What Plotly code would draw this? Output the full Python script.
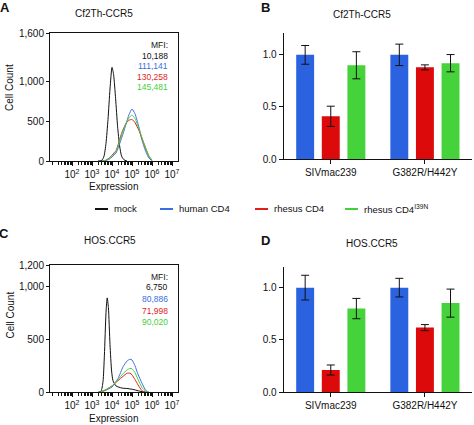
import numpy as np
import plotly.graph_objects as go

W, H = 474, 425
def px(x): return x / W
def py(y): return 1 - y / H

FONT = "Liberation Sans, Arial, sans-serif"

# ---------------- data ----------------
series_names = ["mock", "human CD4", "rhesus CD4", "rhesus CD4<sup>I39N</sup>"]
line_colors = ["#111111", "#3a6ee6", "#e01e1e", "#46cf3c"]
bar_colors = ["#2a62e0", "#dc0a0a", "#45d23a"]

# Panel A (Cf2Th-CCR5) histograms, x in log10 expression units
a_mock_x = [3.3, 3.5, 3.6, 3.7, 3.8, 3.9, 4.0, 4.08, 4.18, 4.28, 4.38, 4.48, 4.6, 4.75]
a_mock_y = [0, 10, 60, 220, 520, 900, 1170, 1080, 780, 430, 190, 60, 15, 0]
a_col_x = [3.5, 3.65, 3.85, 4.0, 4.2, 4.5, 4.7, 4.85, 5.0, 5.15, 5.35, 5.5, 5.7, 5.85, 6.0]
a_human = [0, 3, 20, 50, 100, 300, 460, 580, 650, 590, 420, 260, 110, 35, 5]
a_rhesus = [0, 5, 35, 75, 130, 360, 470, 510, 520, 480, 380, 280, 150, 60, 10]
a_i39n = [0, 5, 30, 65, 120, 340, 470, 540, 575, 530, 400, 290, 150, 55, 8]
a_mfi = ["10,188", "111,141", "130,258", "145,481"]

# Panel C (HOS.CCR5) histograms
c_mock_x = [3.3, 3.45, 3.55, 3.62, 3.7, 3.76, 3.82, 3.9, 3.98, 4.05, 4.2, 4.5, 4.8, 5.1, 5.4, 5.7]
c_mock_y = [0, 10, 100, 350, 750, 890, 800, 450, 200, 110, 60, 40, 35, 25, 10, 0]
c_col_x = [3.4, 3.7, 4.0, 4.3, 4.55, 4.75, 4.9, 5.0, 5.15, 5.3, 5.5, 5.7, 5.85]
c_human = [0, 20, 50, 130, 240, 295, 312, 305, 250, 170, 85, 15, 0]
c_rhesus = [0, 25, 60, 110, 150, 180, 180, 165, 120, 70, 15, 0, 0]
c_i39n = [0, 25, 60, 120, 175, 210, 225, 222, 185, 120, 45, 8, 0]
c_mfi = ["6,750", "80,886", "71,998", "90,020"]

# Bar panels
viruses = ["SIVmac239", "G382R/H442Y"]
b_vals = {"human CD4": [1.0, 1.0], "rhesus CD4": [0.41, 0.88], "rhesus CD4 I39N": [0.90, 0.92]}
b_err = {"human CD4": [0.09, 0.103], "rhesus CD4": [0.097, 0.024], "rhesus CD4 I39N": [0.13, 0.083]}
d_vals = {"human CD4": [1.0, 1.0], "rhesus CD4": [0.213, 0.618], "rhesus CD4 I39N": [0.80, 0.852]}
d_err = {"human CD4": [0.118, 0.089], "rhesus CD4": [0.048, 0.029], "rhesus CD4 I39N": [0.097, 0.134]}

hist_xticks = [2, 3, 4, 5, 6, 7]

# ---------------- figure ----------------
fig = go.Figure()

def add_hist(xa, ya, mock_x, mock_y, col_x, cols):
    fig.add_trace(go.Scatter(x=10 ** np.array(mock_x), y=mock_y, mode="lines",
                             line=dict(color=line_colors[0], width=1, shape="spline", smoothing=0.6),
                             xaxis=xa, yaxis=ya, showlegend=False, hoverinfo="skip"))
    for i, ys in enumerate(cols):
        fig.add_trace(go.Scatter(x=10 ** np.array(col_x), y=ys, mode="lines",
                                 line=dict(color=line_colors[i + 1], width=1, shape="spline", smoothing=0.5),
                                 xaxis=xa, yaxis=ya, showlegend=False, hoverinfo="skip"))

add_hist("x", "y", a_mock_x, a_mock_y, a_col_x, [a_human, a_rhesus, a_i39n])
add_hist("x3", "y3", c_mock_x, c_mock_y, c_col_x, [c_human, c_rhesus, c_i39n])

def add_bars(xa, ya, vals, errs):
    for i, k in enumerate(vals):
        fig.add_trace(go.Bar(x=viruses, y=vals[k], marker=dict(color=bar_colors[i], line=dict(width=0)),
                             error_y=dict(type="data", array=errs[k], color="#111111", thickness=1, width=4),
                             xaxis=xa, yaxis=ya, showlegend=False, hoverinfo="skip"))

add_bars("x2", "y2", b_vals, b_err)
add_bars("x4", "y4", d_vals, d_err)

tickfont = dict(family=FONT, size=10, color="#111111")
minor_vals = [m * 10 ** e for e in range(1, 7) for m in range(2, 10)] + [10]

hist_x = dict(type="log", range=[0.9, 7.3], tickvals=[10 ** e for e in hist_xticks],
              ticktext=[f"10<sup>{e}</sup>" for e in hist_xticks],
              showline=True, linecolor="#111111", linewidth=1, mirror=True,
              ticks="outside", ticklen=4, tickcolor="#111111", tickfont=tickfont,
              minor=dict(tickvals=minor_vals, ticks="outside", ticklen=3, tickcolor="#111111"),
              showgrid=False, zeroline=False, automargin=False)
hist_y = dict(showline=True, linecolor="#111111", linewidth=1, mirror=True,
              ticks="outside", ticklen=3, tickcolor="#111111", tickfont=tickfont,
              tickformat=",", showgrid=False, zeroline=False, automargin=False)
bar_x = dict(range=[-0.5, 1.5], showline=True, linecolor="#111111", linewidth=1,
             ticks="outside", ticklen=4, tickcolor="#111111",
             tickfont=dict(family=FONT, size=10, color="#111111"), showgrid=False, zeroline=False,
             automargin=False)
bar_y = dict(showline=True, linecolor="#111111", linewidth=1, ticks="outside", ticklen=4,
             tickcolor="#111111", tickfont=tickfont, tickvals=[0, 0.5, 1.0], tickformat=".1f",
             showgrid=False, zeroline=False, automargin=False)

fig.update_layout(
    width=W, height=H, margin=dict(l=0, r=0, t=0, b=0),
    paper_bgcolor="white", plot_bgcolor="white",
    font=dict(family=FONT, color="#111111"),
    barmode="group", bargap=0.184, bargroupgap=0.30, showlegend=False,
    xaxis=dict(hist_x, domain=[px(50), px(178)], anchor="y"),
    yaxis=dict(hist_y, domain=[py(161), py(33)], range=[0, 1600], tickvals=[0, 500, 1000, 1600], anchor="x"),
    xaxis3=dict(hist_x, domain=[px(50), px(178)], anchor="y3"),
    yaxis3=dict(hist_y, domain=[py(392.3), py(265)], range=[0, 1200], tickvals=[0, 500, 1000, 1200], anchor="x3"),
    xaxis2=dict(bar_x, domain=[px(283.7), px(472)], anchor="y2"),
    yaxis2=dict(bar_y, domain=[py(159), py(33)], range=[0, 1.21], anchor="x2"),
    xaxis4=dict(bar_x, domain=[px(283.7), px(472)], anchor="y4"),
    yaxis4=dict(bar_y, domain=[py(392.3), py(266.7)], range=[0, 1.2], anchor="x4"),
)

ann = []
def text(x, y, s, size=10, color="#111111", bold=False, xanchor="center", angle=0):
    ann.append(dict(x=px(x), y=py(y), xref="paper", yref="paper", text=(f"<b>{s}</b>" if bold else s),
                    showarrow=False, xanchor=xanchor, yanchor="middle", textangle=angle,
                    font=dict(family=FONT, size=size, color=color)))

# panel letters
text(5, 8, "A", 13, bold=True)
text(265, 8, "B", 13, bold=True)
text(4, 234, "C", 13, bold=True)
text(265, 240, "D", 13, bold=True)
# titles
text(104, 13, "Cf2Th-CCR5", 10)
text(362, 14.5, "Cf2Th-CCR5", 10)
text(110, 241, "HOS.CCR5", 10)
text(372, 243, "HOS.CCR5", 10)
# axis titles
text(9.5, 87.5, "Cell Count", 10, angle=-90)
text(9.5, 315, "Cell Count", 10, angle=-90)
text(113.5, 187, "Expression", 10)
text(113, 418, "Expression", 10)
# MFI
for lines_y, vals in [([45, 55.5, 66, 76.6, 87.2], a_mfi), ([276.5, 287.2, 299.2, 310.5, 321.5], c_mfi)]:
    text(170, lines_y[0], "MFI:", 8.5, xanchor="right")
    for i, v in enumerate(vals):
        text(170, lines_y[i + 1], v, 8.5, color=line_colors[i], xanchor="right")

# legend
leg_x = [95, 160, 255, 345]
shapes = []
for i, name in enumerate(series_names):
    shapes.append(dict(type="line", xref="paper", yref="paper", x0=px(leg_x[i]), x1=px(leg_x[i] + 13),
                       y0=py(209), y1=py(209), line=dict(color=line_colors[i], width=2)))
    text(leg_x[i] + 17, 208.5, name, 9.5, xanchor="left")

fig.update_layout(annotations=ann, shapes=shapes)
fig.write_html("out.html", config={"displayModeBar": False},
               post_script="document.body.style.margin='0';document.body.style.overflow='hidden';")
